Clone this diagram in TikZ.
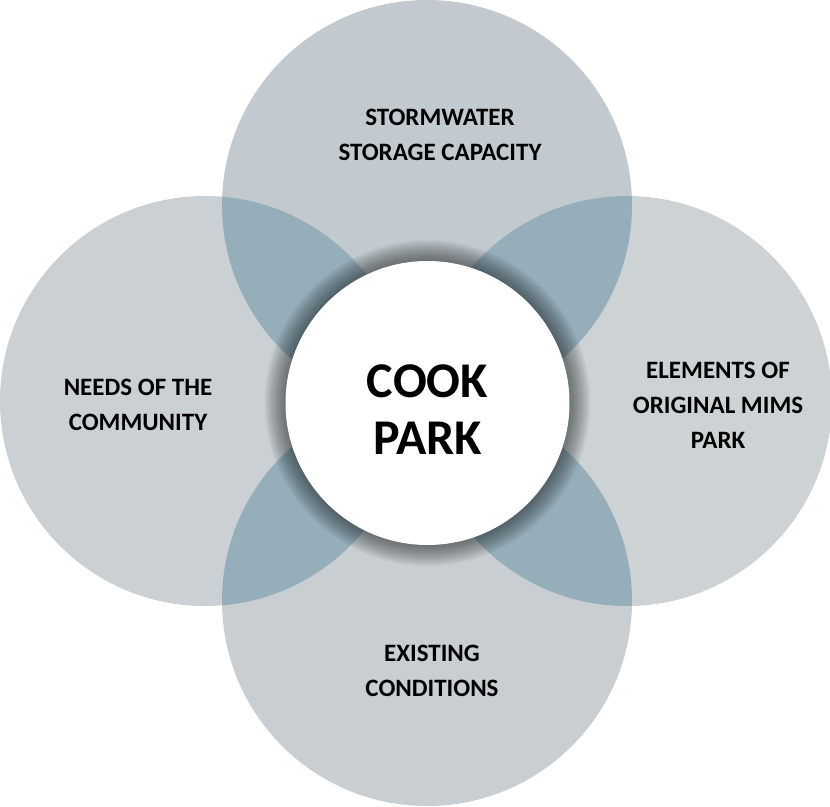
\documentclass[tikz,border=0pt]{standalone}
\usepackage{fontspec}
\setmainfont{Carlito}
\definecolor{ctop}{HTML}{C3CACF}
\definecolor{cleft}{HTML}{CBD0D4}
\definecolor{cright}{HTML}{CDD2D5}
\definecolor{cbot}{HTML}{C8CED2}
\definecolor{lens}{HTML}{95AEBA}
\tikzset{
  lbl/.style={font=\bfseries\fontsize{25}{35}\selectfont, align=center, text=black, inner sep=0pt},
  core/.style={font=\bfseries\fontsize{50}{57}\selectfont, align=center, text=black, inner sep=0pt},
}
\begin{document}
\begin{tikzpicture}[x=1pt,y=-1pt]
\useasboundingbox (0,0) rectangle (830,806);
\fill[white] (0,0) rectangle (830,806);
\def\R{205}
\coordinate (T) at (427,205);
\coordinate (B) at (427,601);
\coordinate (L) at (205,401);
\coordinate (Rt) at (627,401);
\coordinate (C) at (427.5,403);
\fill[ctop] (T) circle (\R);
\fill[cleft] (L) circle (\R);
\fill[cright] (Rt) circle (\R);
\fill[cbot] (B) circle (\R);
\begin{scope}\clip (T) circle (\R); \fill[lens] (L) circle (\R); \fill[lens] (Rt) circle (\R);\end{scope}
\begin{scope}\clip (B) circle (\R); \fill[lens] (L) circle (\R); \fill[lens] (Rt) circle (\R);\end{scope}
\foreach \i in {1,...,22}{
  \fill[black!80!lens, opacity=0.03] (C) circle ({141+\i*1.0});
}
\fill[white] (C) circle (142);
\node[core] (cp) at (427.5,410) {COOK\\PARK};
\node[lbl] (sw) at (440,135) {STORMWATER\\STORAGE CAPACITY};
\node[lbl] (nc) at (138,405) {NEEDS OF THE\\COMMUNITY};
\node[lbl] (el) at (718,405) {ELEMENTS OF\\ORIGINAL MIMS\\PARK};
\node[lbl] (ex) at (432,671) {EXISTING\\CONDITIONS};
\end{tikzpicture}
\end{document}
